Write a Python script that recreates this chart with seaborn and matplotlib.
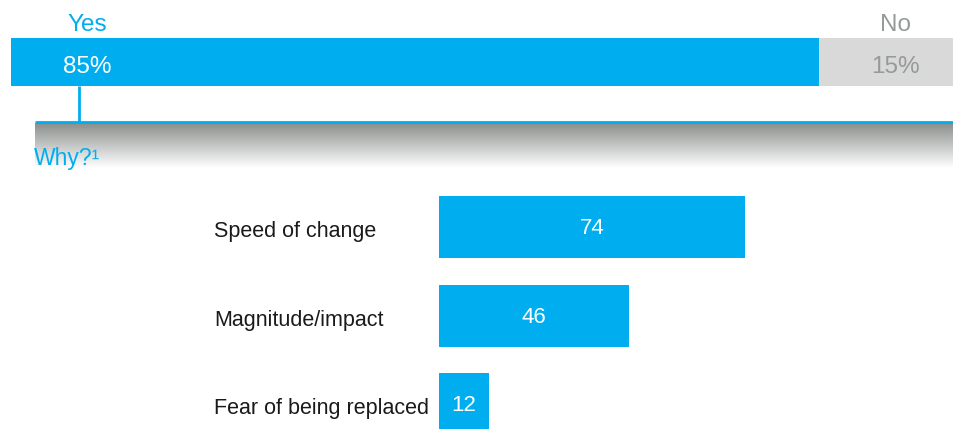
import numpy as np
import pandas as pd
import matplotlib.pyplot as plt
import seaborn as sns
from matplotlib.colors import LinearSegmentedColormap
from matplotlib import transforms

# --- Settings ---
sns.set_style("white")
plt.rcParams["font.family"] = ["Liberation Sans", "DejaVu Sans"]

blue = "#00AEEF"
light_grey = "#D9D9D9"
grey_text = "#959B98"

# --- Data ---
answers = ["Yes", "No"]
shares = [85, 15]

reasons = ["Speed of change", "Magnitude/impact", "Fear of being replaced"]
reason_values = [74, 46, 12]

W, H = 954, 429
fig = plt.figure(figsize=(W / 100, H / 100), dpi=100)

# overlay axes in pixel units for connector lines and shading
deco = fig.add_axes([0, 0, 1, 1])
deco.set_xlim(0, W)
deco.set_ylim(H, 0)
deco.axis("off")
fade = LinearSegmentedColormap.from_list("fade", ["#8A8F8C", "#FFFFFF"])
grad = np.linspace(0, 1, 100).reshape(-1, 1)
deco.imshow(grad, cmap=fade, extent=[35, W, 168, 123], aspect="auto", zorder=1)
deco.plot([35, W], [122, 122], color=blue, lw=2, solid_capstyle="butt", zorder=2)
deco.plot([79, 79], [86, 122], color=blue, lw=2, solid_capstyle="butt", zorder=2)
deco.text(34, 165, "Why?¹", color=blue, fontsize=16.5, va="baseline", ha="left", zorder=3)

# --- Top: Yes / No split ---
top = fig.add_axes([11 / W, 1 - 86 / H, 951 / W, 48 / H])
top_df = pd.DataFrame({"answer": answers, "share": shares})
total = top_df["share"].sum()
sns.barplot(x=[total], y=[0], orient="h", color=light_grey, width=1,
            saturation=1, linewidth=0, ax=top)
sns.barplot(x=[top_df["share"].iloc[0]], y=[0], orient="h", color=blue, width=1,
            saturation=1, linewidth=0, ax=top)
top.set_xlim(0, total)
top.set_ylim(0.5, -0.5)
top.axis("off")

yes_share, no_share = top_df["share"].iloc[0], top_df["share"].iloc[1]
head_tr = transforms.blended_transform_factory(top.transData, fig.transFigure)
in_bar = transforms.offset_copy(top.transData, fig, y=-11, units="dots")
top.text(8, 1 - 31 / H, answers[0], transform=head_tr, color=blue, fontsize=17.5,
         ha="center", va="baseline")
top.text(8, 0, f"{yes_share}%", transform=in_bar, color="white", fontsize=17.5,
         ha="center", va="baseline")
top.text(yes_share + 8, 1 - 31 / H, answers[1], transform=head_tr, color=grey_text,
         fontsize=17.5, ha="center", va="baseline")
top.text(yes_share + 8, 0, f"{no_share}%", transform=in_bar, color=grey_text,
         fontsize=17.5, ha="center", va="baseline")

# --- Bottom: reasons ---
bot = fig.add_axes([439 / W, 0, (W - 439) / W, 246 / H])
reason_df = pd.DataFrame({"reason": reasons, "value": reason_values})
sns.barplot(data=reason_df, x="value", y="reason", orient="h", color=blue,
            width=0.7, saturation=1, linewidth=0, ax=bot)
bot.set_xlim(0, (W - 439) / 4.14)
bot.set_ylim(2.28, -0.5)
bot.axis("off")

name_tr = transforms.offset_copy(
    transforms.blended_transform_factory(fig.transFigure, bot.transData),
    fig, y=-10, units="dots")
value_tr = transforms.offset_copy(bot.transData, fig, y=-7, units="dots")
for i, row in reason_df.iterrows():
    bot.text(row["value"] / 2, i, str(row["value"]), transform=value_tr,
             color="white", fontsize=16, ha="center", va="baseline")
    bot.text(214 / W, i, row["reason"], transform=name_tr, color="#1A1A1A",
             fontsize=15.5, ha="left", va="baseline")

fig.savefig("out.png", dpi=100, facecolor="white")
